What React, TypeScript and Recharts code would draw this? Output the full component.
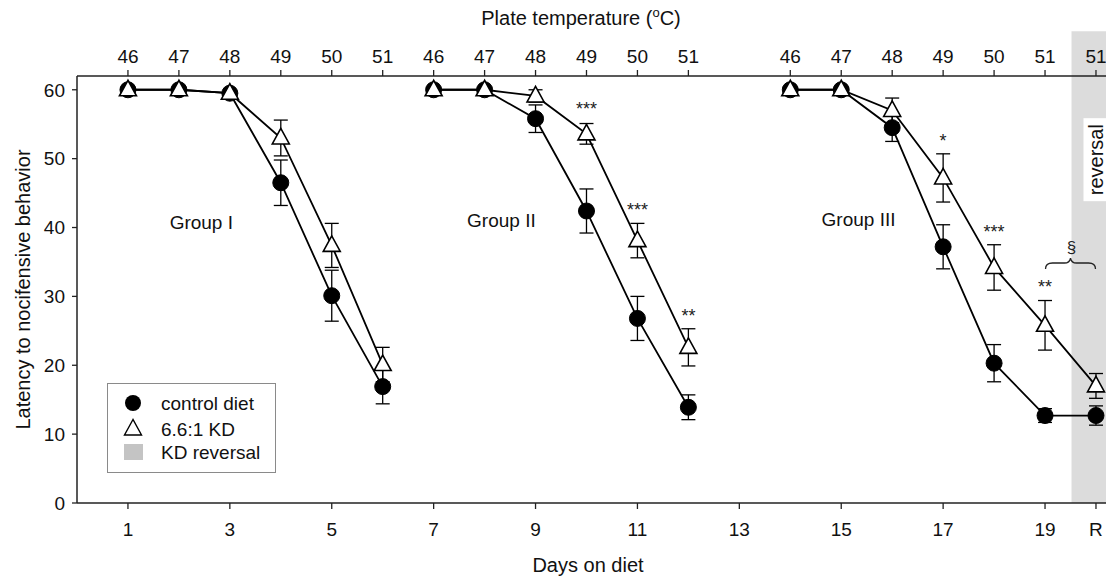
import React from 'react';
import { ComposedChart, Line, XAxis, YAxis, ErrorBar, ReferenceArea, ReferenceDot, Legend } from 'recharts';

const FONT = '"Liberation Sans", Arial, sans-serif';

// days on diet per group; day 20 is the reversal day ("R")
const groupIDays = [1, 2, 3, 4, 5, 6];
const groupIIDays = [7, 8, 9, 10, 11, 12];
const groupIIIDays = [14, 15, 16, 17, 18, 19, 20];

const controlI = [60, 60, 59.5, 46.5, 30.1, 16.9];
const controlIErr = [null, null, null, 3.3, 3.7, 2.5];
const kdI = [60, 60, 59.5, 53, 37.4, 20.1];
const kdIErr = [null, null, null, 2.6, 3.2, 2.5];

const controlII = [60, 60, 55.8, 42.4, 26.8, 13.9];
const controlIIErr = [null, null, 2, 3.2, 3.2, 1.8];
const kdII = [60, 60, 59.1, 53.6, 38.1, 22.6];
const kdIIErr = [null, null, 0.9, 1.5, 2.5, 2.7];

const controlIII = [60, 60, 54.5, 37.2, 20.3, 12.7, 12.7];
const controlIIIErr = [null, null, 2, 3.2, 2.7, 1, 1.4];
const kdIII = [60, 60, 57, 47.2, 34.2, 25.8, 17];
const kdIIIErr = [null, null, 1.8, 3.5, 3.3, 3.6, 1.8];

const dayTicks = [1, 3, 5, 7, 9, 11, 13, 15, 17, 19, 20];
const dayLabels = ['1', '3', '5', '7', '9', '11', '13', '15', '17', '19', 'R'];
const tempTicks = [1, 2, 3, 4, 5, 6, 7, 8, 9, 10, 11, 12, 14, 15, 16, 17, 18, 19, 20];
const tempLabels = ['46', '47', '48', '49', '50', '51', '46', '47', '48', '49', '50', '51', '46', '47', '48', '49', '50', '51', '51'];
const latencyTicks = [0, 10, 20, 30, 40, 50, 60];

const stars = [
  { day: 10, value: 57.8, text: '***' },
  { day: 11, value: 43.1, text: '***' },
  { day: 12, value: 27.8, text: '**' },
  { day: 17, value: 53.1, text: '*' },
  { day: 18, value: 40.0, text: '***' },
  { day: 19, value: 31.9, text: '**' },
];
const groupLabels = [
  { day: 2.44, value: 40.7, text: 'Group I' },
  { day: 8.33, value: 41.1, text: 'Group II' },
  { day: 15.34, value: 41.2, text: 'Group III' },
];

const makeRows = (days: number[], c: number[], ce: (number | null)[], k: number[], ke: (number | null)[]) =>
  days.map((day, i) => ({ day, control: c[i], controlErr: ce[i], kd: k[i], kdErr: ke[i] }));

const groupIRows = makeRows(groupIDays, controlI, controlIErr, kdI, kdIErr);
const groupIIRows = makeRows(groupIIDays, controlII, controlIIErr, kdII, kdIIErr);
const groupIIIRows = makeRows(groupIIIDays, controlIII, controlIIIErr, kdIII, kdIIIErr);
const groups = [groupIRows, groupIIRows, groupIIIRows];

const triPoints = (cx: number, cy: number) =>
  `${cx},${cy - 9.5} ${cx - 8.5},${cy + 6} ${cx + 8.5},${cy + 6}`;

const renderTriangle = (p: any) => {
  if (p.cx == null || p.cy == null) return <g key={`t-${p.index}`} />;
  return <polygon key={`t-${p.index}`} points={triPoints(p.cx, p.cy)} fill="#fff" stroke="#000" strokeWidth={1.6} />;
};

const circleDot = { r: 8, fill: '#000', stroke: '#000', strokeWidth: 1 };

const LegendBox = () => (
  <svg width={170} height={91} style={{ display: 'block' }}>
    <rect x={0.5} y={0.5} width={168} height={89} fill="#fff" stroke="#8a8a8a" strokeWidth={1} />
    <circle cx={26} cy={20} r={8} fill="#000" />
    <polygon points={triPoints(26, 46)} fill="#fff" stroke="#000" strokeWidth={1.4} />
    <rect x={17} y={61} width={19} height={16} fill="#c4c4c4" />
    <g fontFamily={FONT} fontSize={19} fill="#111">
      <text x={54} y={27}>control diet</text>
      <text x={54} y={53}>6.6:1 KD</text>
      <text x={54} y={76}>KD reversal</text>
    </g>
  </svg>
);

const TopTitle = (props: any) => {
  const vb = props.viewBox;
  return (
    <text x={vb.x + 504} y={25} textAnchor="middle" fontFamily={FONT} fontSize={20} fill="#111">
      <tspan>Plate temperature (</tspan>
      <tspan fontSize={13} dy={-8}>o</tspan>
      <tspan dy={8}>C)</tspan>
    </text>
  );
};

const BottomTitle = (props: any) => {
  const vb = props.viewBox;
  return (
    <text x={vb.x + 511} y={vb.y + 69} textAnchor="middle" fontFamily={FONT} fontSize={20} fill="#111">
      Days on diet
    </text>
  );
};

const LeftTitle = (props: any) => {
  const vb = props.viewBox;
  const cy = vb.y + vb.height / 2;
  return (
    <text x={23} y={cy} textAnchor="middle" dominantBaseline="central" transform={`rotate(-90, 23, ${cy})`}
      fontFamily={FONT} fontSize={20} fill="#111">
      Latency to nocifensive behavior
    </text>
  );
};

const App: React.FC = () => {
  const axisLine = { stroke: '#222', strokeWidth: 1.5 };
  const tickLine = { stroke: '#222', strokeWidth: 1.3 };
  const tickStyle = { fontSize: 19, fill: '#111', fontFamily: FONT };

  return (
    <div style={{ margin: -8, width: 1114, height: 584, overflow: 'hidden', position: 'relative', background: '#fff' }}>
      <ComposedChart width={1124} height={584} margin={{ top: 0, right: 0, bottom: 0, left: 0 }} style={{ fontFamily: FONT }}>
        <ReferenceArea x1={19.52} x2={20.55} y1={0} y2={68.5} fill="#dcdcdc" fillOpacity={1} stroke="none" ifOverflow="visible" />
        <XAxis
          dataKey="day"
          type="number"
          domain={[0, 20.55]}
          ticks={dayTicks}
          interval={0}
          allowDataOverflow
          tickFormatter={(v: number) => dayLabels[dayTicks.indexOf(v)] ?? ''}
          height={81}
          tickSize={6}
          tickMargin={14}
          axisLine={axisLine}
          tickLine={tickLine}
          tick={tickStyle}
          label={{ content: BottomTitle }}
        />
        <XAxis
          xAxisId="top"
          dataKey="day"
          orientation="top"
          type="number"
          domain={[0, 20.55]}
          ticks={tempTicks}
          interval={0}
          allowDataOverflow
          tickFormatter={(v: number) => tempLabels[tempTicks.indexOf(v)] ?? ''}
          height={76}
          tickSize={6}
          tickMargin={7}
          axisLine={axisLine}
          tickLine={tickLine}
          tick={tickStyle}
          label={{ content: TopTitle }}
        />
        <YAxis
          type="number"
          domain={[0, 62]}
          ticks={latencyTicks}
          interval={0}
          allowDataOverflow
          width={77}
          tickSize={5}
          tickMargin={7}
          axisLine={axisLine}
          tickLine={tickLine}
          tick={tickStyle}
          label={{ content: LeftTitle }}
        />
        {groups.map((rows, g) => (
          <Line key={`c${g}`} data={rows} dataKey="control" name="control diet" stroke="#000" strokeWidth={1.8}
            dot={circleDot} activeDot={false} isAnimationActive={false} legendType="none">
            <ErrorBar dataKey="controlErr" width={7} stroke="#000" strokeWidth={1.3} />
          </Line>
        ))}
        {groups.map((rows, g) => (
          <Line key={`k${g}`} xAxisId="top" data={rows} dataKey="kd" name="6.6:1 KD" stroke="#000" strokeWidth={1.8}
            dot={renderTriangle} activeDot={false} isAnimationActive={false} legendType="none">
            <ErrorBar dataKey="kdErr" width={7} stroke="#000" strokeWidth={1.3} />
          </Line>
        ))}
        {stars.map((s, i) => (
          <ReferenceDot key={`s${i}`} x={s.day} y={s.value} r={0} ifOverflow="visible"
            shape={(p: any) => (
              <text x={p.cx} y={p.cy + 10} textAnchor="middle" fontFamily={FONT} fontSize={18} fill="#222">{s.text}</text>
            )} />
        ))}
        {groupLabels.map((s, i) => (
          <ReferenceDot key={`g${i}`} x={s.day} y={s.value} r={0} ifOverflow="visible"
            shape={(p: any) => (
              <text x={p.cx} y={p.cy} dy="0.35em" textAnchor="middle" fontFamily={FONT} fontSize={19} fill="#111">{s.text}</text>
            )} />
        ))}
        <ReferenceDot x={19.52} y={37.1} r={0} ifOverflow="visible"
          shape={(p: any) => (
            <text x={p.cx} y={p.cy} dy="0.35em" textAnchor="middle" fontFamily={FONT} fontSize={17} fill="#222">§</text>
          )} />
        <ReferenceDot x={19.5} y={34.7} r={0} ifOverflow="visible"
          shape={(p: any) => {
            const { cx, cy } = p;
            const d = `M${cx - 25},${cy + 5} Q${cx - 25},${cy - 1} ${cx - 18},${cy - 1} L${cx - 6},${cy - 1} Q${cx - 1},${cy - 1} ${cx},${cy - 6} Q${cx + 1},${cy - 1} ${cx + 6},${cy - 1} L${cx + 18},${cy - 1} Q${cx + 25},${cy - 1} ${cx + 25},${cy + 5}`;
            return <path d={d} fill="none" stroke="#222" strokeWidth={1.3} />;
          }} />
        <ReferenceDot x={20} y={49.85} r={0} ifOverflow="visible"
          shape={(p: any) => (
            <g>
              <rect x={p.cx - 12.5} y={p.cy - 41.5} width={25} height={83} fill="#fff" />
              <text x={p.cx} y={p.cy} textAnchor="middle" dominantBaseline="central" transform={`rotate(-90, ${p.cx}, ${p.cy})`}
                fontFamily={FONT} fontSize={20} fill="#111">reversal</text>
            </g>
          )} />
        <Legend layout="horizontal" verticalAlign="middle" align="center" content={LegendBox}
          wrapperStyle={{ left: 107, top: 383, width: 170, height: 91 }} />
      </ComposedChart>
    </div>
  );
};

export default App;
